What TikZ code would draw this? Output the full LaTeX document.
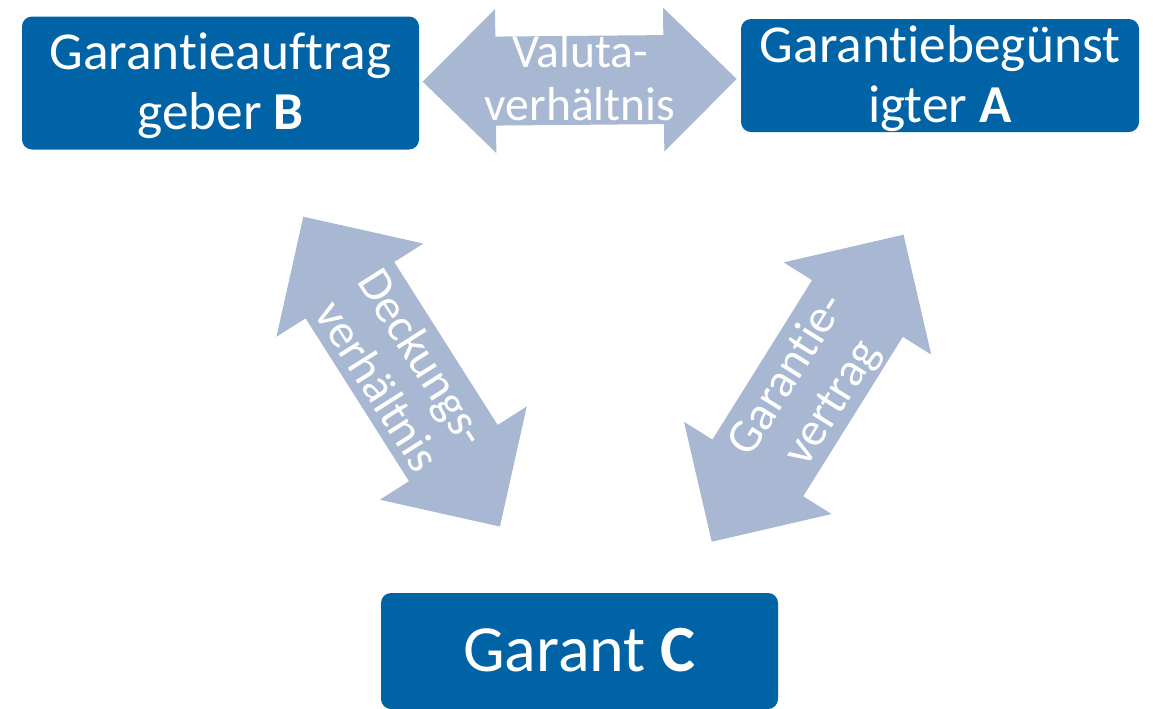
\documentclass[tikz,border=0pt]{standalone}
\usepackage{fontspec}
\setmainfont{Carlito}[RawFeature={-liga;-clig;-calt}]
\definecolor{boxblue}{HTML}{0063A6}
\definecolor{arrowgrey}{HTML}{A8B7D2}

% struts so that a text block is centred on its cap line / last baseline
\newcommand\capstrut{\rule{0pt}{0.892em}}
\newcommand\dscstrut{\rule[-0.26em]{0pt}{0.26em}}

% block double arrow: #1 first tip, #2 direction, #3 length,
% #4 head half-width, #5 shaft half-width, #6 head length
\newcommand\blockarrow[6]{%
  \fill[arrowgrey,shift={#1},rotate=#2]
    (0,0) -- (#6,#4) -- (#6,#5) -- ({#3-#6},#5) -- ({#3-#6},#4) -- (#3,0)
    -- ({#3-#6},-#4) -- ({#3-#6},-#5) -- (#6,-#5) -- (#6,-#4) -- cycle;}

\tikzset{
  party/.style={fill=boxblue, rounded corners=7.5pt, text=white, align=center,
    inner xsep=0pt, inner ysep=-15pt, font=\fontsize{40}{45}\selectfont},
  relation/.style={text=white, align=center, inner sep=0pt,
    font=\fontsize{35.7}{40}\selectfont}
}

\begin{document}
\begin{tikzpicture}[x=0.75pt,y=-0.75pt]
  \useasboundingbox (0,0) rectangle (1153,708);
  \clip (0,0) rectangle (1153,708);

  % relations
  \coordinate (vl) at (422.7,81.7);
  \coordinate (dl) at (303.3,216.7);
  \coordinate (gl) at (711.7,541.7);
  \blockarrow{(vl)}{0.5}{314}{72}{44.5}{73}
  \blockarrow{(dl)}{-57.6}{367}{87}{52.5}{87}
  \blockarrow{(gl)}{58}{362}{87}{53.5}{87}

  \node[relation] (valuta) at (580,79) {\capstrut Valuta-\\verhältnis\dscstrut};
  \node[relation, rotate=-57.6] (deckung) at (400,372) {\capstrut Deckungs-\\verhältnis\dscstrut};
  \node[relation, rotate=58] (garantie) at (808,388) {\capstrut Garantie-\\vertrag\dscstrut};

  % parties
  \node[party, minimum width=297.75pt, minimum height=99.75pt] (B) at (220.5,83)
    {\capstrut Garantieauftrag\\geber \textbf{B}\dscstrut};
  \node[party, minimum width=298.5pt, minimum height=84.75pt] (A) at (940,75.5)
    {\capstrut Garantiebegünst\\igter \textbf{A}\dscstrut};
  \node[party, minimum width=297.75pt, minimum height=87pt,
        font=\fontsize{49.5}{60}\selectfont] (C) at (579.5,651)
    {\capstrut Garant \textbf{C}\dscstrut};
\end{tikzpicture}
\end{document}
